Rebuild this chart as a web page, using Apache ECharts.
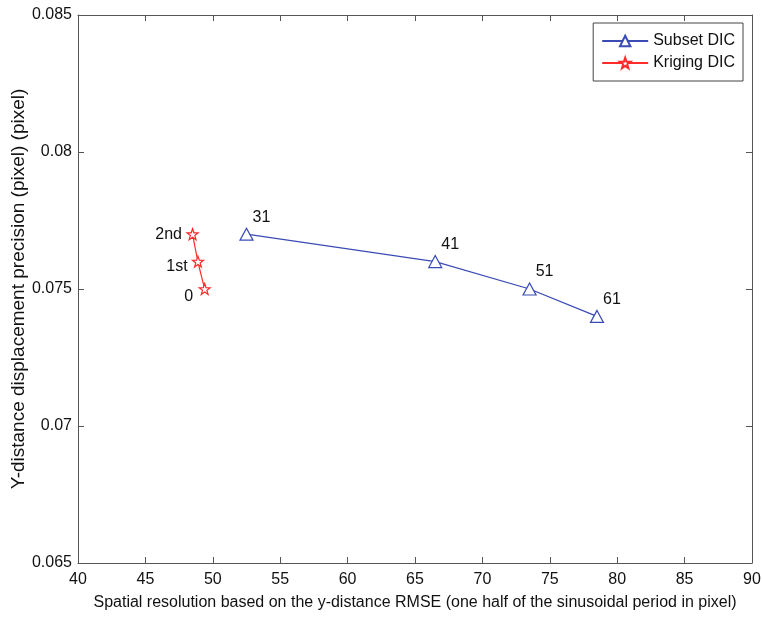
<!DOCTYPE html>
<html><head><meta charset="utf-8">
<script src="https://cdn.jsdelivr.net/npm/echarts@6/dist/echarts.min.js"></script>
<style>html,body{margin:0;padding:0;background:#fff}#c{width:762px;height:617px}</style>
</head><body><div id="c"></div>
<script>
const subsetX = [52.5, 66.5, 73.5, 78.5];
const subsetY = [0.077, 0.076, 0.075, 0.074];
const subsetLabels = ['31', '41', '51', '61'];
const krigX = [48.5, 48.9, 49.4];
const krigY = [0.077, 0.076, 0.075];
const krigLabels = ['2nd', '1st', '0'];
const xTicks = [40, 45, 50, 55, 60, 65, 70, 75, 80, 85, 90];
const yTicks = [0.065, 0.07, 0.075, 0.08, 0.085];

const star = 'path://M0,-10 L2.35,-3.24 L9.51,-3.09 L3.8,1.24 L5.88,8.09 L0,4 L-5.88,8.09 L-3.8,1.24 L-9.51,-3.09 L-2.35,-3.24 Z';
const font = '"Liberation Sans", Arial, sans-serif';
const axisCol = '#555';
const krigOffsets = [[-24, 0], [-21, 5], [-16, 8]];

const chart = echarts.init(document.getElementById('c'));
const baseX = {
  type: 'value', min: xTicks[0], max: xTicks[xTicks.length - 1], interval: 5,
  axisLine: { show: true, lineStyle: { color: axisCol, width: 1 } },
  axisTick: { show: true, inside: true, length: 6, lineStyle: { color: axisCol } },
  splitLine: { show: false }
};
const baseY = {
  type: 'value', min: yTicks[0], max: yTicks[yTicks.length - 1], interval: 0.005,
  axisLine: { show: true, lineStyle: { color: axisCol, width: 1 } },
  axisTick: { show: true, inside: true, length: 6, lineStyle: { color: axisCol } },
  splitLine: { show: false }
};
chart.setOption({
  backgroundColor: '#fff',
  animation: false,
  grid: { left: 78, right: 10, top: 15, bottom: 54, containLabel: false, outerBoundsMode: 'none' },
  legend: {
    orient: 'vertical', right: 19, top: 23,
    backgroundColor: '#fff',
    borderColor: '#444', borderWidth: 1,
    padding: [10, 8, 10, 8], itemGap: 6,
    itemWidth: 46, itemHeight: 13,
    textStyle: { fontFamily: font, fontSize: 16, color: '#111' },
    data: ['Subset DIC', 'Kriging DIC']
  },
  xAxis: [
    Object.assign({}, baseX, {
      position: 'bottom',
      name: 'Spatial resolution based on the y-distance RMSE (one half of the sinusoidal period in pixel)',
      nameLocation: 'middle', nameGap: 32, nameMoveOverlap: false,
      nameTextStyle: { fontFamily: font, fontSize: 16, color: '#111' },
      axisLabel: { fontFamily: font, fontSize: 16, color: '#111', margin: 9 }
    }),
    Object.assign({}, baseX, { position: 'top', axisLabel: { show: false } })
  ],
  yAxis: [
    Object.assign({}, baseY, {
      position: 'left',
      name: 'Y-distance displacement precision (pixel) (pixel)',
      nameLocation: 'middle', nameGap: 50, nameRotate: 90, nameMoveOverlap: false,
      nameTextStyle: { fontFamily: font, fontSize: 19, color: '#111' },
      axisLabel: { fontFamily: font, fontSize: 16, color: '#111', margin: 6,
        formatter: v => String(parseFloat(v.toFixed(3))) }
    }),
    Object.assign({}, baseY, { position: 'right', axisLabel: { show: false } })
  ],
  series: [
    {
      name: 'Subset DIC', type: 'line', xAxisIndex: 0, yAxisIndex: 0,
      data: subsetX.map((x, i) => ({ value: [x, subsetY[i]], label: { formatter: subsetLabels[i] } })),
      symbol: 'triangle', symbolSize: [13, 12], showAllSymbol: true,
      lineStyle: { color: '#3a4cb4', width: 1.3 },
      itemStyle: { color: '#fff', borderColor: '#3a4cb4', borderWidth: 1.2 },
      label: { show: true, position: 'inside', offset: [15, -17], fontFamily: font, fontSize: 16, color: '#111' },
      z: 3
    },
    {
      name: 'Kriging DIC', type: 'line', xAxisIndex: 0, yAxisIndex: 0,
      smooth: 0.4,
      data: krigX.map((x, i) => ({ value: [x, krigY[i]], label: { formatter: krigLabels[i], offset: krigOffsets[i] } })),
      symbol: star, symbolSize: 11, showAllSymbol: true,
      lineStyle: { color: '#ff2a2a', width: 1.2 },
      itemStyle: { color: '#fff', borderColor: '#ff2a2a', borderWidth: 1.2 },
      label: { show: true, position: 'inside', fontFamily: font, fontSize: 16, color: '#111' },
      z: 3
    }
  ]
});
</script></body></html>
